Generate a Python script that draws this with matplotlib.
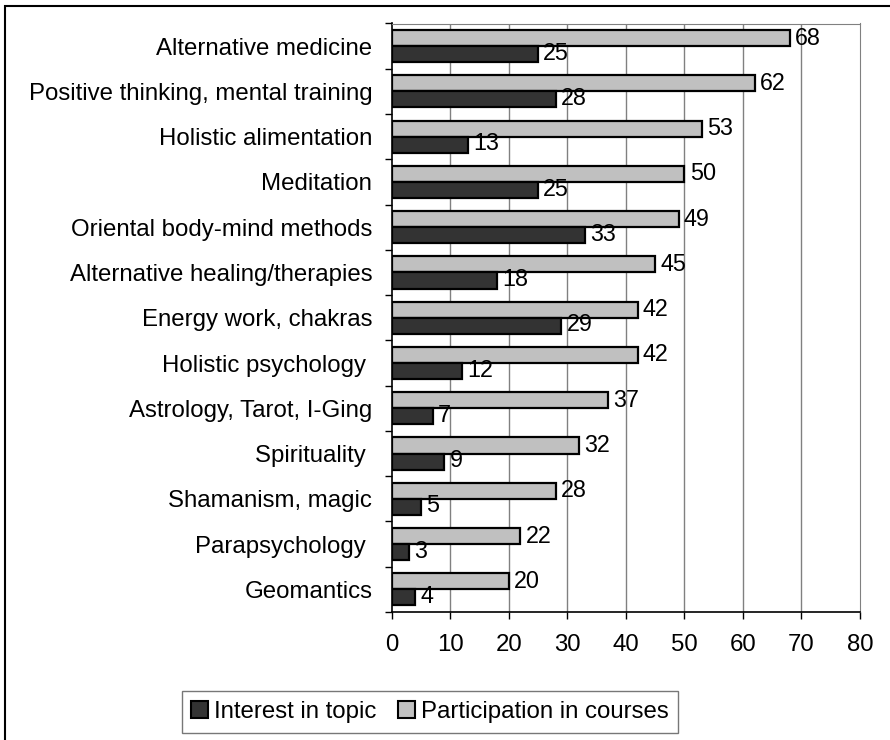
import numpy as np
import matplotlib
matplotlib.use("Agg")
import matplotlib.pyplot as plt
from matplotlib.patches import Rectangle, Patch

plt.rcParams["font.family"] = ["Liberation Sans", "DejaVu Sans"]

topics = [
    "Alternative medicine",
    "Positive thinking, mental training",
    "Holistic alimentation",
    "Meditation",
    "Oriental body-mind methods",
    "Alternative healing/therapies",
    "Energy work, chakras",
    "Holistic psychology ",
    "Astrology, Tarot, I-Ging",
    "Spirituality ",
    "Shamanism, magic",
    "Parapsychology ",
    "Geomantics",
]
participation = [68, 62, 53, 50, 49, 45, 42, 42, 37, 32, 28, 22, 20]
interest = [25, 28, 13, 25, 33, 18, 29, 12, 7, 9, 5, 3, 4]
x_ticks = [0, 10, 20, 30, 40, 50, 60, 70, 80]

LIGHT = "#c0c0c0"
DARK = "#333333"
GRID = "#808080"
FS = 17.3

fig = plt.figure(figsize=(8.9, 7.4), dpi=100)
ax = fig.add_axes([391.7 / 890, 1 - 612 / 740, (860 - 391.7) / 890, (612 - 23.5) / 740])

y = np.arange(len(topics))
h = 0.355
ax.barh(y - h / 2, participation, height=h, color=LIGHT,
        edgecolor="black", linewidth=1.6, zorder=3)
ax.barh(y + h / 2, interest, height=h, color=DARK,
        edgecolor="black", linewidth=1.6, zorder=3)

for yi, v in zip(y, participation):
    ax.text(v + 0.9, yi - h / 2, str(v), va="center", ha="left",
            fontsize=FS - 0.5, zorder=4)
for yi, v in zip(y, interest):
    ax.text(v + 0.9, yi + h / 2 - 0.02, str(v), va="center", ha="left",
            fontsize=FS - 0.5, zorder=4)

ax.set_xlim(0, 80)
ax.set_ylim(len(topics) - 0.5, -0.5)
ax.set_xticks(x_ticks)
ax.set_xticklabels([str(t) for t in x_ticks], fontsize=FS)
ax.set_yticks(y)
ax.set_yticklabels(topics, fontsize=FS)
ax.set_yticks(np.arange(len(topics) + 1) - 0.5, minor=True)
ax.tick_params(axis="y", which="major", length=0, pad=14)
ax.tick_params(axis="y", which="minor", length=5, width=1, direction="out")
ax.tick_params(axis="x", length=5, width=1, direction="out", pad=11)

for gx in x_ticks[1:-1]:
    ax.axvline(gx, color=GRID, linewidth=1.0, zorder=1)

ax.spines["left"].set_linewidth(1.2)
ax.spines["bottom"].set_linewidth(1.2)
ax.spines["top"].set_color(GRID)
ax.spines["right"].set_color(GRID)

# outer chart border
fig.patches.append(Rectangle((4.5 / 890, -0.05), 1.2, 1 - 5.5 / 740 + 0.05,
                             transform=fig.transFigure, fill=False,
                             edgecolor="black", linewidth=1.5))

handles = [Patch(facecolor=DARK, edgecolor="black", linewidth=1.5),
           Patch(facecolor=LIGHT, edgecolor="black", linewidth=1.5)]
leg = fig.legend(handles, ["Interest in topic", "Participation in courses"],
                 loc="center", bbox_to_anchor=(430 / 890, 1 - 712 / 740),
                 ncol=2, fontsize=FS, frameon=True, fancybox=False,
                 handlelength=0.7, handleheight=0.7, handletextpad=0.25,
                 columnspacing=0.9, borderpad=0.4)
leg.get_frame().set_edgecolor("#555555")
leg.get_frame().set_linewidth(1.0)

fig.savefig("out.png", dpi=100)
